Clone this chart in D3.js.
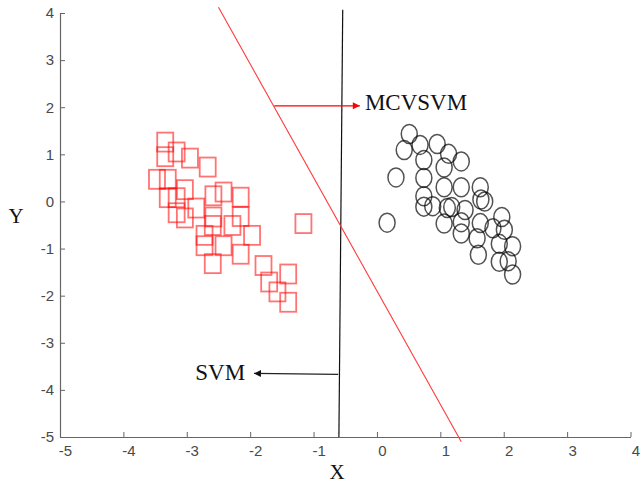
<!DOCTYPE html>
<html>
<head>
<meta charset="utf-8">
<script src="https://cdn.jsdelivr.net/npm/d3@7"></script>
<style>
  html, body { margin: 0; padding: 0; background: #fff; }
  svg { display: block; }
</style>
</head>
<body>
<svg id="chart" width="641" height="484"></svg>
<script>
// Class A samples (red squares)
const classA_x = [-3.34, -3.34, -3.16, -2.95, -2.67, -3.47, -3.30, -3.03, -3.30, -3.16,
                  -3.16, -3.03, -2.85, -2.58, -2.42, -2.15, -2.15, -2.58, -2.59, -2.28,
                  -1.97, -2.72, -2.72, -2.42, -2.59, -2.15, -1.79, -1.70, -1.40, -1.57,
                  -1.40, -1.16];
const classA_y = [1.26, 0.95, 1.05, 0.92, 0.73, 0.47, 0.47, 0.25, 0.08, 0.08,
                  -0.24, -0.35, -0.14, 0.12, 0.20, 0.09, -0.32, -0.33, -0.51, -0.51,
                  -0.72, -0.72, -0.94, -0.94, -1.32, -1.12, -1.36, -1.71, -1.54, -1.92,
                  -2.14, -0.47];

// Class B samples (black circles)
const classB_x = [0.51, 0.43, 0.68, 0.95, 0.74, 1.13, 1.06, 1.33, 0.30, 0.74,
                  1.06, 1.33, 1.63, 0.74, 0.74, 0.88, 1.11, 1.18, 1.39, 1.64,
                  1.70, 1.06, 1.33, 1.33, 1.63, 1.58, 1.60, 1.83, 1.97, 2.01,
                  1.93, 2.14, 1.93, 2.07, 2.14, 0.16];
const classB_y = [1.43, 1.09, 1.20, 1.22, 0.88, 1.01, 0.72, 0.85, 0.51, 0.50,
                  0.30, 0.30, 0.30, 0.11, -0.11, -0.10, -0.14, -0.12, -0.18, 0.04,
                  0.00, -0.47, -0.44, -0.68, -0.46, -0.78, -1.13, -0.57, -0.33, -0.60,
                  -0.90, -0.95, -1.28, -1.27, -1.55, -0.45];

// Decision boundaries (endpoints in data units)
const svmBoundary = [[-0.60, -5.0], [-0.54, 4.07]];
const mcvsvmBoundary = [[-2.50, 4.12], [1.33, -5.10]];

// Callouts: arrow from -> to, label anchored at text point
const calloutNames = ["MCVSVM", "SVM"];
const calloutFrom = [[-1.62, 2.03], [-0.61, -3.67]];
const calloutTo = [[-0.27, 2.03], [-1.94, -3.65]];
const calloutText = [[-0.19, 1.94], [-2.08, -3.79]];

const xTicks = [-5, -4, -3, -2, -1, 0, 1, 2, 3, 4];
const yTicks = [-5, -4, -3, -2, -1, 0, 1, 2, 3, 4];

const svg = d3.select("#chart");

const x = d3.scaleLinear().domain([-5, 4]).range([60, 630.5]);
const y = d3.scaleLinear().domain([-5, 4]).range([437, 13]);

const defs = svg.append("defs");
function arrowHead(id, color) {
  defs.append("marker")
    .attr("id", id)
    .attr("viewBox", "0 0 10 10")
    .attr("refX", 10).attr("refY", 5)
    .attr("markerWidth", 11).attr("markerHeight", 7)
    .attr("markerUnits", "userSpaceOnUse")
    .attr("orient", "auto")
    .append("path")
    .attr("d", "M0,0 L10,5 L0,10 Z")
    .attr("fill", color);
}
arrowHead("head-red", "#ff0000");
arrowHead("head-black", "#111");

// Plain hyphen for negative tick labels
const tickFmt = d => String(d);

// Axes with inward ticks
const axisColor = "#666";
const xAxis = svg.append("g")
  .attr("transform", `translate(0,${y(-5)})`)
  .call(d3.axisBottom(x).tickValues(xTicks).tickFormat(tickFmt)
    .tickSizeInner(-5).tickSizeOuter(0).tickPadding(11));
const yAxis = svg.append("g")
  .attr("transform", `translate(${x(-5)},0)`)
  .call(d3.axisLeft(y).tickValues(yTicks).tickFormat(tickFmt)
    .tickSizeInner(-5).tickSizeOuter(0).tickPadding(4));

[xAxis, yAxis].forEach(g => {
  g.select(".domain").attr("stroke", axisColor).attr("stroke-width", 1.2);
  g.selectAll(".tick line").attr("stroke", axisColor).attr("stroke-width", 1);
  g.selectAll(".tick text")
    .attr("fill", "#4a4a4a")
    .style("font-family", "'Liberation Sans', Arial, sans-serif")
    .style("font-size", "15px");
});
xAxis.selectAll(".tick text").attr("dy", "0.55em").attr("dx", 5);
yAxis.selectAll(".tick text").attr("dx", -2);

// Axis titles
svg.append("text")
  .attr("x", x(-0.63)).attr("y", 479)
  .attr("text-anchor", "middle")
  .style("font-family", "'Liberation Serif', 'Times New Roman', serif")
  .style("font-size", "21px")
  .attr("fill", "#111")
  .text("X");
svg.append("text")
  .attr("x", 16).attr("y", y(0) + 22)
  .attr("text-anchor", "middle")
  .style("font-family", "'Liberation Serif', 'Times New Roman', serif")
  .style("font-size", "21px")
  .attr("fill", "#111")
  .text("Y");

// Class A markers
const squareW = 16, squareH = 19;
svg.append("g").selectAll("rect")
  .data(d3.range(classA_x.length))
  .join("rect")
  .attr("x", i => x(classA_x[i]) - squareW / 2)
  .attr("y", i => y(classA_y[i]) - squareH / 2)
  .attr("width", squareW).attr("height", squareH)
  .attr("fill", "none")
  .attr("stroke", "#ff0000")
  .attr("stroke-opacity", 0.55)
  .attr("stroke-width", 1.8);

// Class B markers
svg.append("g").selectAll("ellipse")
  .data(d3.range(classB_x.length))
  .join("ellipse")
  .attr("cx", i => x(classB_x[i]))
  .attr("cy", i => y(classB_y[i]))
  .attr("rx", 8).attr("ry", 9.5)
  .attr("fill", "none")
  .attr("stroke", "#000")
  .attr("stroke-opacity", 0.68)
  .attr("stroke-width", 1.5);

// Boundaries
const line = d3.line().x(d => x(d[0])).y(d => y(d[1]));
svg.append("path").attr("d", line(svmBoundary))
  .attr("fill", "none").attr("stroke", "#111").attr("stroke-width", 1.2);
svg.append("path").attr("d", line(mcvsvmBoundary))
  .attr("fill", "none").attr("stroke", "#ff3b3b").attr("stroke-width", 1.1);

// Callouts
const calloutColors = ["#ff0000", "#222"];
const calloutHeads = ["head-red", "head-black"];
calloutNames.forEach((name, i) => {
  svg.append("path")
    .attr("d", line([calloutFrom[i], calloutTo[i]]))
    .attr("stroke", calloutColors[i])
    .attr("stroke-width", 1.2)
    .attr("marker-end", `url(#${calloutHeads[i]})`);
  svg.append("text")
    .attr("x", x(calloutText[i][0]))
    .attr("y", y(calloutText[i][1]))
    .attr("text-anchor", i === 0 ? "start" : "end")
    .style("font-family", "'Liberation Serif', 'Times New Roman', serif")
    .style("font-size", "23px")
    .attr("fill", "#111")
    .text(name);
});
</script>
</body>
</html>
